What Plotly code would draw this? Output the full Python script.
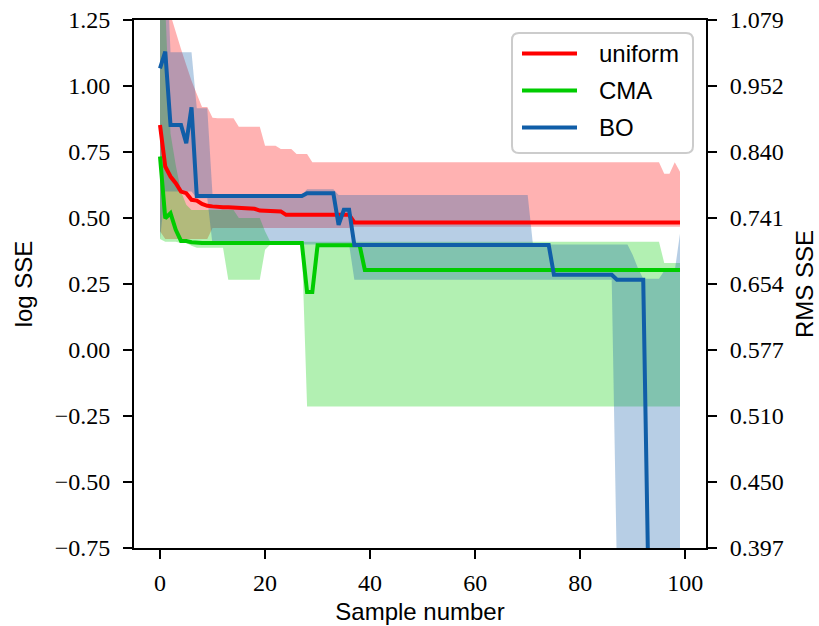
import plotly.graph_objects as go

# ---------------------------------------------------------------- data
sample = list(range(100))

uniform_mean = [
    0.852, 0.695, 0.657, 0.632, 0.600, 0.594, 0.569, 0.566, 0.553, 0.546,
    0.544, 0.541, 0.541, 0.541, 0.540, 0.539, 0.539, 0.538, 0.535, 0.528,
    0.527, 0.527, 0.527, 0.525, 0.512, 0.512, 0.512, 0.512, 0.512, 0.512,
    0.512, 0.512, 0.512, 0.512, 0.512, 0.512, 0.512, 0.483, 0.483, 0.483,
    0.483, 0.483, 0.483, 0.483, 0.483, 0.483, 0.483, 0.483, 0.483, 0.483,
    0.483, 0.483, 0.483, 0.483, 0.483, 0.483, 0.483, 0.483, 0.483, 0.483,
    0.483, 0.483, 0.483, 0.483, 0.483, 0.483, 0.483, 0.483, 0.483, 0.483,
    0.483, 0.483, 0.483, 0.483, 0.483, 0.483, 0.483, 0.483, 0.483, 0.483,
    0.483, 0.483, 0.483, 0.483, 0.483, 0.483, 0.483, 0.483, 0.483, 0.483,
    0.483, 0.483, 0.483, 0.483, 0.483, 0.483, 0.483, 0.483, 0.483, 0.483,
]
uniform_upper = [
    1.600, 1.500, 1.270, 1.200, 1.140, 1.080, 1.020, 0.970, 0.920, 0.920,
    0.880, 0.878, 0.878, 0.878, 0.878, 0.846, 0.846, 0.846, 0.846, 0.846,
    0.774, 0.774, 0.774, 0.761, 0.761, 0.761, 0.742, 0.742, 0.742, 0.711,
    0.711, 0.711, 0.711, 0.711, 0.711, 0.711, 0.711, 0.711, 0.711, 0.711,
    0.711, 0.711, 0.711, 0.711, 0.711, 0.711, 0.711, 0.711, 0.711, 0.711,
    0.711, 0.711, 0.711, 0.711, 0.711, 0.711, 0.711, 0.711, 0.711, 0.711,
    0.711, 0.711, 0.711, 0.711, 0.711, 0.711, 0.711, 0.711, 0.711, 0.711,
    0.711, 0.711, 0.711, 0.711, 0.711, 0.711, 0.711, 0.711, 0.711, 0.711,
    0.711, 0.711, 0.711, 0.711, 0.711, 0.711, 0.711, 0.711, 0.711, 0.711,
    0.711, 0.711, 0.711, 0.711, 0.711, 0.711, 0.668, 0.668, 0.711, 0.675,
]
uniform_lower = [
    0.450, 0.420, 0.420, 0.420, 0.420, 0.420, 0.420, 0.420, 0.420, 0.420,
    0.462, 0.462, 0.462, 0.462, 0.462, 0.462, 0.462, 0.462, 0.462, 0.462,
    0.462, 0.462, 0.462, 0.462, 0.462, 0.462, 0.462, 0.462, 0.462, 0.462,
    0.462, 0.462, 0.462, 0.462, 0.462, 0.462, 0.462, 0.467, 0.467, 0.467,
    0.467, 0.467, 0.467, 0.467, 0.467, 0.467, 0.467, 0.467, 0.467, 0.467,
    0.467, 0.467, 0.467, 0.467, 0.467, 0.467, 0.467, 0.467, 0.467, 0.467,
    0.467, 0.467, 0.467, 0.467, 0.467, 0.467, 0.467, 0.467, 0.467, 0.467,
    0.467, 0.467, 0.467, 0.467, 0.467, 0.467, 0.467, 0.467, 0.467, 0.467,
    0.467, 0.467, 0.467, 0.467, 0.467, 0.467, 0.467, 0.467, 0.467, 0.467,
    0.467, 0.467, 0.467, 0.467, 0.467, 0.467, 0.467, 0.467, 0.467, 0.467,
]

cma_mean = [
    0.733, 0.499, 0.518, 0.455, 0.413, 0.413, 0.408, 0.405, 0.405, 0.405,
    0.405, 0.405, 0.405, 0.405, 0.405, 0.405, 0.405, 0.405, 0.405, 0.405,
    0.405, 0.405, 0.405, 0.405, 0.405, 0.405, 0.405, 0.405, 0.220, 0.220,
    0.397, 0.397, 0.397, 0.397, 0.397, 0.397, 0.397, 0.397, 0.397, 0.303,
    0.303, 0.303, 0.303, 0.303, 0.303, 0.303, 0.303, 0.303, 0.303, 0.303,
    0.303, 0.303, 0.303, 0.303, 0.303, 0.303, 0.303, 0.303, 0.303, 0.303,
    0.303, 0.303, 0.303, 0.303, 0.303, 0.303, 0.303, 0.303, 0.303, 0.303,
    0.303, 0.303, 0.303, 0.303, 0.303, 0.303, 0.303, 0.303, 0.303, 0.303,
    0.303, 0.303, 0.303, 0.303, 0.303, 0.303, 0.303, 0.303, 0.303, 0.303,
    0.303, 0.303, 0.303, 0.303, 0.303, 0.303, 0.303, 0.303, 0.303, 0.303,
]
cma_upper = [
    1.600, 1.300, 0.820, 0.700, 0.600, 0.550, 0.530, 0.530, 0.530, 0.530,
    0.530, 0.530, 0.530, 0.530, 0.530, 0.500, 0.500, 0.500, 0.500, 0.500,
    0.450, 0.410, 0.410, 0.410, 0.410, 0.410, 0.410, 0.410, 0.410, 0.410,
    0.410, 0.410, 0.410, 0.410, 0.410, 0.410, 0.410, 0.410, 0.410, 0.410,
    0.410, 0.410, 0.410, 0.410, 0.410, 0.410, 0.410, 0.410, 0.410, 0.410,
    0.410, 0.410, 0.410, 0.410, 0.410, 0.410, 0.410, 0.410, 0.410, 0.410,
    0.410, 0.410, 0.410, 0.410, 0.410, 0.410, 0.410, 0.410, 0.410, 0.410,
    0.410, 0.410, 0.410, 0.410, 0.410, 0.410, 0.410, 0.410, 0.410, 0.410,
    0.410, 0.410, 0.410, 0.410, 0.410, 0.410, 0.410, 0.410, 0.410, 0.410,
    0.410, 0.410, 0.410, 0.410, 0.410, 0.410, 0.330, 0.330, 0.330, 0.330,
]
cma_lower = [
    0.420, 0.410, 0.410, 0.410, 0.405, 0.405, 0.395, 0.387, 0.387, 0.387,
    0.387, 0.387, 0.387, 0.266, 0.266, 0.266, 0.266, 0.266, 0.266, 0.266,
    0.380, 0.400, 0.400, 0.400, 0.400, 0.400, 0.400, 0.400, -0.214, -0.214,
    -0.214, -0.214, -0.214, -0.214, -0.214, -0.214, -0.214, -0.214, -0.214, -0.214,
    -0.214, -0.214, -0.214, -0.214, -0.214, -0.214, -0.214, -0.214, -0.214, -0.214,
    -0.214, -0.214, -0.214, -0.214, -0.214, -0.214, -0.214, -0.214, -0.214, -0.214,
    -0.214, -0.214, -0.214, -0.214, -0.214, -0.214, -0.214, -0.214, -0.214, -0.214,
    -0.214, -0.214, -0.214, -0.214, -0.214, -0.214, -0.214, -0.214, -0.214, -0.214,
    -0.214, -0.214, -0.214, -0.214, -0.214, -0.214, -0.214, -0.214, -0.214, -0.214,
    -0.214, -0.214, -0.214, -0.214, -0.214, -0.214, -0.214, -0.214, -0.214, -0.214,
]

bo_mean = [
    1.067, 1.130, 0.852, 0.852, 0.852, 0.783, 0.919, 0.583, 0.583, 0.583,
    0.583, 0.583, 0.583, 0.583, 0.583, 0.583, 0.583, 0.583, 0.583, 0.583,
    0.583, 0.583, 0.583, 0.583, 0.583, 0.583, 0.583, 0.583, 0.594, 0.594,
    0.594, 0.594, 0.594, 0.594, 0.474, 0.531, 0.531, 0.398, 0.398, 0.398,
    0.398, 0.398, 0.398, 0.398, 0.398, 0.398, 0.398, 0.398, 0.398, 0.398,
    0.398, 0.398, 0.398, 0.398, 0.398, 0.398, 0.398, 0.398, 0.398, 0.398,
    0.398, 0.398, 0.398, 0.398, 0.398, 0.398, 0.398, 0.398, 0.398, 0.398,
    0.398, 0.398, 0.398, 0.398, 0.398, 0.285, 0.285, 0.285, 0.285, 0.285,
    0.285, 0.285, 0.285, 0.285, 0.285, 0.285, 0.285, 0.266, 0.266, 0.266,
    0.266, 0.266, 0.266, -0.900, -0.900, -0.900, -0.900, -0.900, -0.900, -0.900,
]
bo_upper = [
    1.600, 1.600, 1.128, 1.128, 1.128, 1.128, 1.128, 0.916, 0.916, 0.916,
    0.587, 0.587, 0.587, 0.587, 0.587, 0.587, 0.587, 0.587, 0.587, 0.587,
    0.587, 0.587, 0.587, 0.587, 0.587, 0.587, 0.587, 0.587, 0.609, 0.609,
    0.609, 0.609, 0.609, 0.609, 0.587, 0.587, 0.587, 0.587, 0.587, 0.587,
    0.587, 0.587, 0.587, 0.587, 0.587, 0.587, 0.587, 0.587, 0.587, 0.587,
    0.587, 0.587, 0.587, 0.587, 0.587, 0.587, 0.587, 0.587, 0.587, 0.587,
    0.587, 0.587, 0.587, 0.587, 0.587, 0.587, 0.587, 0.587, 0.587, 0.587,
    0.587, 0.400, 0.400, 0.400, 0.400, 0.400, 0.400, 0.400, 0.400, 0.400,
    0.400, 0.400, 0.400, 0.400, 0.400, 0.400, 0.400, 0.400, 0.400, 0.400,
    0.360, 0.310, 0.270, 0.270, 0.270, 0.270, 0.300, 0.300, 0.300, 0.440,
]
bo_lower = [
    0.420, 0.600, 0.600, 0.600, 0.600, 0.600, 0.600, 0.575, 0.575, 0.575,
    0.400, 0.400, 0.400, 0.400, 0.400, 0.400, 0.400, 0.400, 0.400, 0.400,
    0.400, 0.400, 0.400, 0.400, 0.400, 0.400, 0.400, 0.400, 0.400, 0.400,
    0.400, 0.400, 0.400, 0.400, 0.400, 0.400, 0.400, 0.266, 0.266, 0.266,
    0.266, 0.266, 0.266, 0.266, 0.266, 0.266, 0.266, 0.266, 0.266, 0.266,
    0.266, 0.266, 0.266, 0.266, 0.266, 0.266, 0.266, 0.266, 0.266, 0.266,
    0.266, 0.266, 0.266, 0.266, 0.266, 0.266, 0.266, 0.266, 0.266, 0.266,
    0.266, 0.266, 0.266, 0.266, 0.266, 0.266, 0.266, 0.266, 0.266, 0.266,
    0.266, 0.266, 0.266, 0.266, 0.266, 0.266, 0.266, -0.850, -0.850, -0.850,
    -0.850, -0.850, -0.850, -0.850, -0.850, -0.850, -0.850, -0.850, -0.850, -0.850,
]

methods = ["uniform", "CMA", "BO"]
x_ticks = [0, 20, 40, 60, 80, 100]
y_ticks = [-0.75, -0.5, -0.25, 0.0, 0.25, 0.5, 0.75, 1.0, 1.25]
y_tick_labels = ["\u22120.75", "\u22120.50", "\u22120.25", "0.00", "0.25",
                 "0.50", "0.75", "1.00", "1.25"]
rms_tick_labels = ["0.397", "0.450", "0.510", "0.577", "0.654",
                   "0.741", "0.840", "0.952", "1.079"]

# ---------------------------------------------------------------- style
COLORS = {"uniform": (255, 0, 0), "CMA": (0, 204, 0), "BO": (16, 94, 168)}
SERIES = {
    "uniform": (uniform_mean, uniform_lower, uniform_upper),
    "CMA": (cma_mean, cma_lower, cma_upper),
    "BO": (bo_mean, bo_lower, bo_upper),
}
W, H = 819, 626
L, R, T, B = 134, 113, 20, 78
SERIF = "Liberation Serif"
SANS = "Liberation Sans"


def rgb(c, a=None):
    if a is None:
        return "rgb(%d,%d,%d)" % c
    return "rgba(%d,%d,%d,%.2f)" % (c + (a,))


fig = go.Figure()

# shaded spread of each method
for name in methods:
    mean, lower, upper = SERIES[name]
    fig.add_trace(go.Scatter(
        x=sample + sample[::-1], y=upper + lower[::-1],
        fill="toself", fillcolor=rgb(COLORS[name], 0.3),
        mode="lines", line=dict(width=0), hoverinfo="skip", showlegend=False,
    ))

# mean curves
for name in methods:
    mean, lower, upper = SERIES[name]
    fig.add_trace(go.Scatter(
        x=sample, y=mean, mode="lines", name=name,
        line=dict(color=rgb(COLORS[name]), width=4), showlegend=False,
    ))

# keeps the secondary (RMS) axis alive
fig.add_trace(go.Scatter(x=[sample[0]], y=[uniform_mean[0]], yaxis="y2",
                         mode="markers", marker=dict(opacity=0),
                         hoverinfo="skip", showlegend=False))

axis_common = dict(
    showgrid=False, zeroline=False, showline=True, linecolor="black",
    linewidth=2, ticks="outside", ticklen=9, tickwidth=2, tickcolor="black",
    tickfont=dict(family=SERIF, size=24, color="black"), automargin=False,
)

fig.update_layout(
    width=W, height=H,
    margin=dict(l=L, r=R, t=T, b=B, pad=0),
    paper_bgcolor="white", plot_bgcolor="white",
    showlegend=False,
    xaxis=dict(
        range=[-4.95, 103.95], tickvals=x_ticks, mirror=True,
        title=dict(text="Sample number", standoff=8,
                   font=dict(family=SANS, size=24, color="black")),
        ticklabelstandoff=3, **axis_common,
    ),
    yaxis=dict(
        range=[-0.75, 1.25], tickvals=y_ticks, ticktext=y_tick_labels,
        mirror=True,
        title=dict(text="log SSE", standoff=15,
                   font=dict(family=SANS, size=24, color="black")),
        ticklabelstandoff=8, **axis_common,
    ),
    yaxis2=dict(
        range=[-0.75, 1.25], tickvals=y_ticks, ticktext=rms_tick_labels,
        overlaying="y", side="right",
        title=dict(text="RMS SSE", standoff=13,
                   font=dict(family=SANS, size=24, color="black")),
        ticklabelstandoff=8, **axis_common,
    ),
)

# ---------------------------------------------------------------- legend box
pw, ph = W - L - R, H - T - B


def px(x):
    return (x - L) / pw


def py(y):
    return 1 - (y - T) / ph


bx0, bx1, by0, by1, rad = 512, 693, 33, 153, 7
path = (
    f"M {px(bx0 + rad)},{py(by0)} L {px(bx1 - rad)},{py(by0)} "
    f"Q {px(bx1)},{py(by0)} {px(bx1)},{py(by0 + rad)} "
    f"L {px(bx1)},{py(by1 - rad)} "
    f"Q {px(bx1)},{py(by1)} {px(bx1 - rad)},{py(by1)} "
    f"L {px(bx0 + rad)},{py(by1)} "
    f"Q {px(bx0)},{py(by1)} {px(bx0)},{py(by1 - rad)} "
    f"L {px(bx0)},{py(by0 + rad)} "
    f"Q {px(bx0)},{py(by0)} {px(bx0 + rad)},{py(by0)} Z"
)
fig.add_shape(type="path", path=path, xref="paper", yref="paper",
              fillcolor="rgba(255,255,255,0.8)",
              line=dict(color="rgb(204,204,204)", width=2), layer="above")

for i, name in enumerate(methods):
    row_y = 53.5 + 37 * i
    fig.add_shape(type="line", xref="paper", yref="paper",
                  x0=px(522), x1=px(577), y0=py(row_y), y1=py(row_y),
                  line=dict(color=rgb(COLORS[name]), width=4), layer="above")
    fig.add_annotation(text=name, xref="paper", yref="paper",
                       x=px(597), y=py(row_y), xanchor="left", yanchor="middle",
                       showarrow=False,
                       font=dict(family=SANS, size=24, color="black"))

fig.write_html("out.html")
